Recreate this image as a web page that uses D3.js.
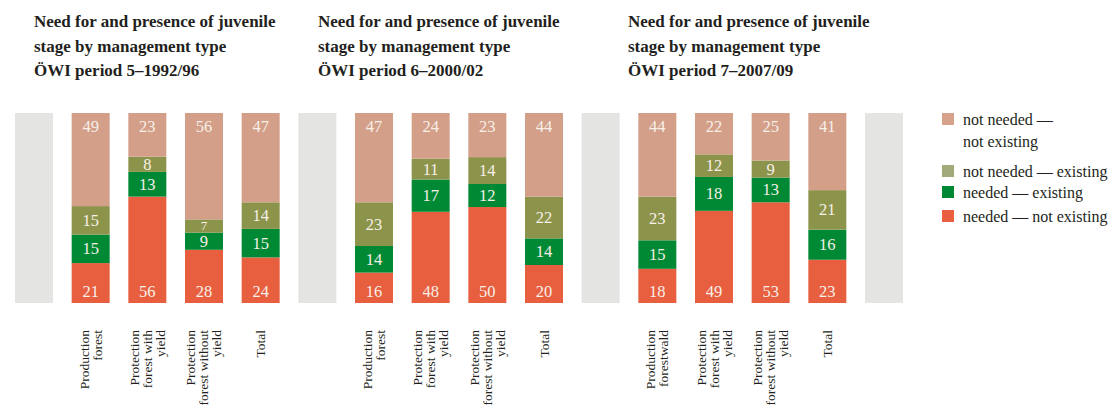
<!DOCTYPE html>
<html><head><meta charset="utf-8">
<script src="https://cdn.jsdelivr.net/npm/d3@7"></script>
<style>
html,body{margin:0;padding:0;background:#fff;}
svg{display:block;}
svg text{font-family:"Liberation Serif","Tinos","Times New Roman","DejaVu Serif",serif;}
</style></head>
<body>
<svg id="chart" width="1116" height="405" font-family="Liberation Serif, DejaVu Serif, serif"></svg>
<script>
// ---- data ----
const periods = ["ÖWI period 5–1992/96", "ÖWI period 6–2000/02", "ÖWI period 7–2007/09"];
const categories = [
  ["Production", "forest"],
  ["Protection", "forest with", "yield"],
  ["Protection", "forest without", "yield"],
  ["Total"]
];
const categories3 = [
  ["Production", "forestwald"],
  ["Protection", "forest with", "yield"],
  ["Protection", "forest without", "yield"],
  ["Total"]
];
const seriesNames = ["needed — not existing", "needed — existing", "not needed — existing", "not needed — not existing"];
const legendLabels = [["not needed —", "not existing"], ["not needed — existing"], ["needed — existing"], ["needed — not existing"]];
// values per period, per category: [needed-not existing, needed-existing, not needed-existing, not needed-not existing]
const p5 = [[21, 15, 15, 49], [56, 13, 8, 23], [28, 9, 7, 56], [24, 15, 14, 47]];
const p6 = [[16, 14, 23, 47], [48, 17, 11, 24], [50, 12, 14, 23], [20, 14, 22, 44]];
const p7 = [[18, 15, 23, 44], [49, 18, 12, 22], [53, 13, 9, 25], [23, 16, 21, 41]];
const titleLine1 = "Need for and presence of juvenile";
const titleLine2 = "stage by management type";

// ---- styles ----
const colors = ["#e85f3f", "#008935", "#8c944b", "#d39f88"];
const legendColors = ["#d6a28c", "#a2aa7a", "#008935", "#e85f3f"];
const grayColor = "#e4e4e2";

const svg = d3.select("#chart");
const allData = [p5, p6, p7];
const catLabels = [categories, categories, categories3];

// slots: gray, 4 bars, gray, 4 bars, gray, 4 bars, gray
const slots = [];
const bars = [];
for (let p = 0; p < 3; p++) {
  slots.push("gray" + p);
  for (let c = 0; c < 4; c++) {
    const id = "p" + p + "c" + c;
    slots.push(id);
    const row = {id, p, c};
    allData[p][c].forEach((v, i) => row[seriesNames[i]] = v);
    bars.push(row);
  }
}
slots.push("gray3");

const x = d3.scaleBand().domain(slots).range([15, 903]).paddingInner(1 - 38 / 56.67).paddingOuter(0);
const y = d3.scaleLinear().domain([0, 1]).range([303, 113]);

// gray bars
svg.append("g").selectAll("rect").data(slots.filter(s => s.startsWith("gray"))).join("rect")
  .attr("x", d => x(d)).attr("y", y(1)).attr("width", x.bandwidth()).attr("height", y(0) - y(1))
  .attr("fill", grayColor);

const stack = d3.stack().keys(seriesNames).offset(d3.stackOffsetExpand);
const layers = stack(bars);

const gBars = svg.append("g");
layers.forEach((layer, li) => {
  gBars.append("g").selectAll("rect").data(layer).join("rect")
    .attr("x", d => x(d.data.id))
    .attr("y", d => y(d[1]))
    .attr("width", x.bandwidth())
    .attr("height", d => y(d[0]) - y(d[1]))
    .attr("fill", colors[li]);
});

// value labels
const segH = d => y(d[0]) - y(d[1]);
layers.forEach((layer, li) => {
  gBars.append("g").selectAll("text").data(layer).join("text")
    .attr("x", d => x(d.data.id) + x.bandwidth() / 2)
    .attr("y", d => {
      if (li === 3) return y(d[1]) + 19;
      if (li === 0) return y(d[0]) - 6;
      if (segH(d) < 15) return (y(d[0]) + y(d[1])) / 2 + 3.5;
      return (y(d[0]) + y(d[1])) / 2 + 5.5;
    })
    .attr("text-anchor", "middle")
    .attr("font-size", d => segH(d) < 15 ? 13 : 16.5)
    .attr("fill", "#f7efe8")
    .text(d => d.data[layer.key]);
});

// category labels (rotated)
const gCat = svg.append("g");
bars.forEach(b => {
  const lines = catLabels[b.p][b.c];
  const cx = x(b.id) + x.bandwidth() / 2;
  const n = lines.length;
  lines.forEach((ln, i) => {
    const lx = cx + (i - (n - 1) / 2) * 13 + 4.5;
    gCat.append("text")
      .attr("transform", `translate(${lx},330) rotate(-90)`)
      .attr("text-anchor", "end")
      .attr("font-size", 13.5)
      .attr("fill", "#231f20")
      .text(ln);
  });
});

// titles
const titleX = [34, 318, 628];
periods.forEach((pt, i) => {
  const t = svg.append("text").attr("font-weight", "bold").attr("font-size", 17).attr("fill", "#231f20");
  [titleLine1, titleLine2, pt].forEach((ln, j) => {
    t.append("tspan").attr("x", titleX[i]).attr("y", 27 + j * 24.5).text(ln);
  });
});

// legend
const legY = [113, 165, 186, 210];
const gLeg = svg.append("g");
legendLabels.forEach((lines, i) => {
  gLeg.append("rect").attr("x", 942).attr("y", legY[i]).attr("width", 12).attr("height", 12).attr("fill", legendColors[i]);
  lines.forEach((ln, j) => {
    gLeg.append("text").attr("x", 963).attr("y", legY[i] + 12 + j * 22)
      .attr("font-size", 16).attr("fill", "#231f20").text(ln);
  });
});
</script>
</body></html>
